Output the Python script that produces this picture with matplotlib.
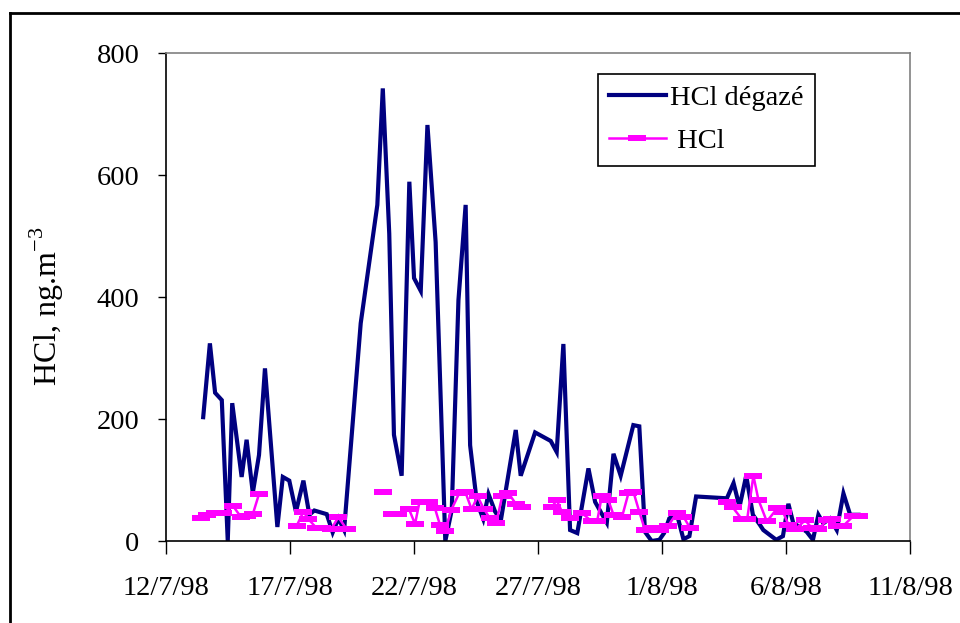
from datetime import datetime, timedelta

import matplotlib
matplotlib.use("Agg")
import matplotlib.dates as mdates
import matplotlib.pyplot as plt
import numpy as np
from matplotlib.lines import Line2D
from matplotlib.ticker import FuncFormatter

plt.rcParams["font.family"] = ["Liberation Serif", "DejaVu Serif"]
plt.rcParams["mathtext.fontset"] = "custom"
plt.rcParams["mathtext.rm"] = "Liberation Serif"

START = datetime(1998, 7, 12)

# days after 12/7/98 and concentration (ng.m-3)
degaze_days = [1.50, 1.77, 1.98, 2.25, 2.49, 2.67, 3.05, 3.25, 3.50, 3.75, 3.99, 4.49, 4.71,
               4.97, 5.24, 5.54, 5.78, 5.98, 6.48, 6.72, 6.95, 7.18, 7.85, 8.52, 8.74, 9.00,
               9.19, 9.50, 9.81, 10.00, 10.27, 10.54, 10.87, 11.26, 11.52, 11.79, 12.08, 12.26,
               12.53, 12.79, 13.00, 13.27, 13.50, 14.10, 14.30, 14.88, 15.51, 15.75, 16.02,
               16.29, 16.58, 17.03, 17.30, 17.77, 18.04, 18.33, 18.84, 19.08, 19.31, 19.58,
               19.89, 20.08, 20.29, 20.59, 20.86, 21.10, 21.37, 22.61, 22.88, 23.12, 23.39,
               23.66, 23.95, 24.08, 24.60, 24.87, 25.09, 25.29, 25.56, 25.83, 26.08, 26.30,
               26.50, 26.77, 27.04, 27.31, 27.58, 27.92]
degaze_vals = [203, 324, 243, 231, 0, 226, 105, 166, 79, 141, 283, 23, 105,
               99, 48, 99, 43, 50, 44, 14, 37, 18, 357, 551, 742, 504,
               174, 107, 589, 431, 410, 682, 490, 0, 51, 395, 551, 157,
               64, 36, 77, 48, 34, 182, 107, 178, 164, 146, 323,
               18, 13, 119, 64, 30, 143, 107, 190, 188, 15, 0,
               2, 13, 37, 45, 3, 8, 73, 70, 95, 56, 107,
               43, 26, 18, 2, 8, 61, 29, 23, 15, 2, 43,
               29, 37, 18, 78, 43, 43]

# NaN = gap in the series
hcl_days = [1.40, 1.67, 1.98, 2.31, 2.71, 3.01, 3.25, 3.50, 3.75, 4.5,
            5.27, 5.54, 5.74, 6.05, 6.29, 6.65, 6.95, 7.29, 8.0,
            8.76, 8.9,
            9.11, 9.35, 9.80, 10.04, 10.22, 10.59, 10.84, 11.04, 11.26, 11.50, 11.83, 12.07,
            12.32, 12.56, 12.81, 13.06, 13.31, 13.55, 13.80, 14.10, 14.34, 15.0,
            15.55, 15.75, 15.96, 16.29, 16.76, 17.17, 17.38, 17.57, 17.83, 18.04, 18.38,
            18.64, 18.84, 19.08, 19.31, 19.65, 19.92, 20.25, 20.59, 20.86, 21.13, 22.0,
            22.61, 22.85, 23.21, 23.43, 23.68, 23.88, 24.22, 24.65, 24.87, 25.09, 25.36,
            25.77, 26.04, 26.30, 26.64, 26.84, 27.04, 27.31, 27.71, 27.92]
hcl_vals = [38, 42, 46, 46, 57, 40, 41, 44, 77, np.nan,
            25, 48, 36, 22, 21, 19, 39, 19, np.nan,
            81, np.nan,
            45, 45, 52, 28, 64, 64, 54, 27, 16, 51, 79, 80,
            52, 73, 53, 37, 29, 73, 79, 61, 56, np.nan,
            55, 67, 48, 37, 46, 32, 32, 74, 67, 43, 39,
            78, 81, 48, 18, 21, 18, 25, 46, 40, 21, np.nan,
            64, 55, 36, 36, 107, 68, 32, 54, 48, 27, 19,
            34, 21, 19, 34, 36, 25, 25, 41, 41]

x_ticks_days = [0, 5, 10, 15, 20, 25, 30]
y_ticks = [0, 200, 400, 600, 800]


def to_dates(days):
    return [START + timedelta(days=d) for d in days]


fig = plt.figure(figsize=(9.6, 6.23), dpi=100)
ax = fig.add_axes([0.1729, 0.1316, 0.7752, 0.7833])

rect_marker = [(-1, -0.36), (1, -0.36), (1, 0.36), (-1, 0.36), (-1, -0.36)]

ax.plot(to_dates(degaze_days), degaze_vals, color="#000080", lw=3.0, label="HCl dégazé",
        solid_joinstyle="miter", zorder=2)
ax.plot(to_dates(hcl_days), hcl_vals, color="#FF00FF", lw=1.8, marker=rect_marker,
        markersize=12.5, markeredgewidth=0, label=" HCl", zorder=3)

ax.set_xlim(START, START + timedelta(days=30))
ax.set_ylim(0, 800)
ax.set_xticks(to_dates(x_ticks_days))
ax.xaxis.set_major_formatter(FuncFormatter(
    lambda v, p: (lambda d: f"{d.day}/{d.month}/{d:%y}")(mdates.num2date(v))))
ax.set_yticks(y_ticks)

ax.tick_params(axis="x", direction="out", length=9, width=1, pad=16, labelsize=20.5)
ax.tick_params(axis="y", direction="out", length=6, width=1, pad=13, labelsize=20.5)

for s in ["left", "bottom"]:
    ax.spines[s].set_color("black")
    ax.spines[s].set_linewidth(1.2)
for s in ["top", "right"]:
    ax.spines[s].set_color("#808080")
    ax.spines[s].set_linewidth(1.2)

ax.set_ylabel("HCl, ng.m$^{-3}$", fontsize=23)
ax.yaxis.set_label_coords(-0.135, 0.48)

leg = ax.legend(loc="upper left", bbox_to_anchor=(0.58, 0.957), fontsize=20.5, frameon=True,
                fancybox=False, edgecolor="black", framealpha=1, handlelength=2.0,
                numpoints=1, borderpad=0.4, labelspacing=0.6, handletextpad=0.15,
                borderaxespad=0)
leg.get_frame().set_linewidth(1.2)

# outer chart frame
fx = 10 / 960
fy = 1 - 13 / 623
fig.add_artist(Line2D([fx, fx], [0, fy], color="black", lw=2, transform=fig.transFigure))
fig.add_artist(Line2D([fx, 1], [fy, fy], color="black", lw=2, transform=fig.transFigure))

fig.savefig("out.png", dpi=100)
plt.close(fig)
